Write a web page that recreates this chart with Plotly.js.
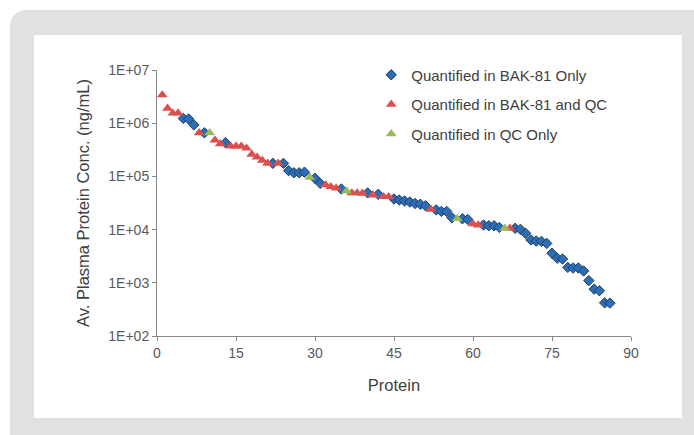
<!DOCTYPE html>
<html>
<head>
<meta charset="utf-8">
<script src="https://cdn.plot.ly/plotly-3.0.1.min.js"></script>
<style>
  html, body { margin: 0; padding: 0; width: 694px; height: 435px; overflow: hidden; background: #ffffff; }
  #frame { position: absolute; left: 10px; top: 10px; width: 700px; height: 440px; background: #e1e1e3; border-radius: 16px; }
  #inner { position: absolute; left: 34px; top: 35px; width: 648px; height: 383px; background: #ffffff; }
  #chart { position: absolute; left: 0; top: 0; width: 694px; height: 435px; }
</style>
</head>
<body>
<div id="frame"></div>
<div id="inner"></div>
<div id="chart"></div>
<script>
// Protein rank (x), concentration (ng/mL), group per protein
const proteinRank = [
  1,2,3,4,5,6,7,8,9,10,11,12,13,14,15,16,17,18,19,20,21,22,23,24,25,26,27,28,29,30,
  31,32,33,34,35,36,37,38,39,40,41,42,43,44,45,46,47,48,49,50,51,52,53,54,55,56,57,58,59,60,
  61,62,63,64,65,66,67,68,69,70,71,72,73,74,75,76,77,78,79,80,81,82,83,84,85,86
];
const concentration = [
  3.4e6,1.9e6,1.54e6,1.55e6,1.23e6,1.2e6,9.3e5,6.6e5,6.6e5,6.6e5,4.8e5,4.1e5,4.3e5,3.7e5,3.7e5,3.7e5,3.4e5,2.6e5,2.3e5,2.0e5,
  1.76e5,1.76e5,1.76e5,1.76e5,1.28e5,1.17e5,1.17e5,1.2e5,9.6e4,9.2e4,7.4e4,6.9e4,6.4e4,6.0e4,5.8e4,5.3e4,4.9e4,4.9e4,4.8e4,4.9e4,
  4.45e4,4.6e4,4.15e4,4.15e4,3.76e4,3.6e4,3.45e4,3.3e4,3.1e4,3.0e4,2.8e4,2.4e4,2.35e4,2.2e4,2.2e4,1.67e4,1.6e4,1.6e4,1.55e4,1.28e4,
  1.22e4,1.22e4,1.18e4,1.18e4,1.1e4,1.06e4,1.06e4,1.06e4,1.01e4,8.5e3,6.4e3,6.1e3,6.0e3,5.5e3,3.6e3,2.9e3,2.8e3,1.95e3,1.9e3,1.9e3,
  1.67e3,1.1e3,7.6e2,7.1e2,4.2e2,4.15e2
];
// B = BAK-81 only, R = BAK-81 and QC, G = QC only
const group = [
  'R','R','R','R','B','B','B','R','B','G','R','R','B','R','R','R','R','R','R','R',
  'R','B','R','B','B','B','B','B','G','B','B','R','R','R','B','G','R','R','R','B',
  'R','B','R','R','B','B','B','B','B','B','B','R','B','B','B','B','G','B','B','R',
  'R','B','B','B','B','G','R','B','B','B','B','B','B','B','B','B','B','B','B','B',
  'B','B','B','B','B','B'
];
const seriesNames = ['Quantified in BAK-81 Only', 'Quantified in BAK-81 and QC', 'Quantified in QC Only'];
const seriesKeys = ['B', 'R', 'G'];
const yTickVals = [1e2, 1e3, 1e4, 1e5, 1e6, 1e7];
const yTickText = ['1E+02', '1E+03', '1E+04', '1E+05', '1E+06', '1E+07'];
const xTickVals = [0, 15, 30, 45, 60, 75, 90];

const styles = {
  B: {symbol: 'diamond', color: '#2c6db5', size: 8, line: {color: '#1d3f66', width: 1}},
  R: {symbol: 'triangle-up', color: '#dc4f4f', size: 9.5, line: {width: 0}},
  G: {symbol: 'triangle-up', color: '#9bbb59', size: 9.5, line: {width: 0}}
};

const traces = seriesKeys.map((k, i) => {
  const xs = [], ys = [];
  group.forEach((g, j) => { if (g === k) { xs.push(proteinRank[j]); ys.push(concentration[j]); } });
  return {
    type: 'scatter', mode: 'markers', name: seriesNames[i], x: xs, y: ys,
    legendgroup: k,
    marker: styles[k]
  };
});

const font = 'Liberation Sans, Arial, sans-serif';
const layout = {
  width: 694, height: 435,
  margin: {l: 157, r: 63, t: 70, b: 99, pad: 0},
  paper_bgcolor: 'rgba(0,0,0,0)', plot_bgcolor: 'rgba(0,0,0,0)',
  font: {family: font, color: '#404040', size: 14},
  showlegend: true,
  legend: {x: 0.452, xanchor: 'left', y: 1.043, yanchor: 'top', bgcolor: 'rgba(0,0,0,0)',
           font: {family: font, size: 15, color: '#404040'}, traceorder: 'grouped', tracegroupgap: 7},
  xaxis: {range: [0, 90], tickvals: xTickVals, ticks: 'outside', ticklen: 4, tickcolor: '#888',
          showline: true, linecolor: '#888', linewidth: 1, showgrid: false, zeroline: false,
          tickfont: {size: 14, color: '#595959'},
          title: {text: 'Protein', font: {size: 16.5, color: '#404040'}, standoff: 19}},
  yaxis: {type: 'log', range: [2, 7], tickvals: yTickVals, ticktext: yTickText, ticks: 'outside', ticklen: 4,
          tickcolor: '#888', showline: true, linecolor: '#888', linewidth: 1, showgrid: false, zeroline: false,
          tickfont: {size: 14, color: '#595959'},
          title: {text: 'Av. Plasma Protein Conc. (ng/mL)', font: {size: 16.5, color: '#404040'}, standoff: 14}}
};

Plotly.newPlot('chart', traces, layout, {displayModeBar: false, staticPlot: true});
</script>
</body>
</html>
